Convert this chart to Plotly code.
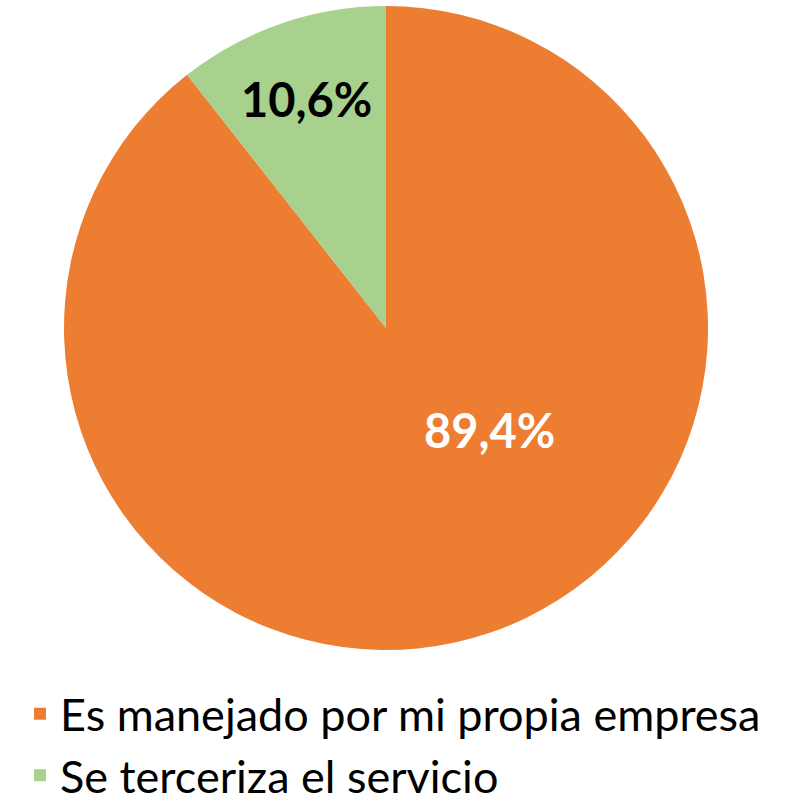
import plotly.graph_objects as go

# Share of respondents by how the service is handled
categories = ["Es manejado por mi propia empresa", "Se terceriza el servicio"]
values = [89.4, 10.6]
colors = ["#ED7D31", "#A9D18E"]
label_colors = ["white", "black"]

W, H = 790, 811
LABEL_FONT = dict(family="Lato", size=47, weight="bold")

fig = go.Figure(
    go.Pie(
        labels=categories,
        values=values,
        sort=False,
        direction="clockwise",
        rotation=0,
        marker=dict(colors=colors, line=dict(width=0)),
        texttemplate="%{percent:.1%}",
        # the large slice gets its label placed separately below
        textposition=["none", "inside"],
        insidetextorientation="horizontal",
        insidetextfont=dict(color=label_colors, **LABEL_FONT),
        hoverinfo="label+percent",
        domain=dict(x=[64 / W, 708 / W], y=[1 - 650 / H, 1 - 6 / H]),
    )
)

# label of the large slice, set toward its centre of mass
share = values[0] / sum(values) * 100
fig.add_annotation(
    x=489 / W,
    y=1 - 430 / H,
    xref="paper",
    yref="paper",
    text=f"{share:.1f}%".replace(".", ","),
    showarrow=False,
    font=dict(color=label_colors[0], **LABEL_FONT),
)

fig.update_layout(
    width=W,
    height=H,
    margin=dict(l=0, r=0, t=0, b=0),
    separators=",.",
    paper_bgcolor="white",
    showlegend=True,
    legend=dict(
        x=20 / W,
        y=0.0,
        xanchor="left",
        yanchor="bottom",
        font=dict(family="Lato", size=45, color="black"),
        itemsizing="constant",
        bgcolor="rgba(0,0,0,0)",
    ),
)

fig.write_html("out.html")
